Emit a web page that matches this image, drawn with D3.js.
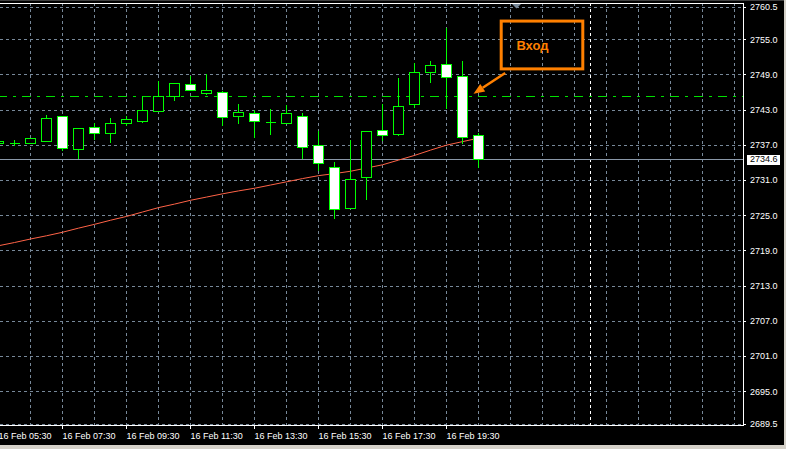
<!DOCTYPE html>
<html><head><meta charset="utf-8">
<script src="https://cdn.jsdelivr.net/npm/d3@7"></script>
<style>
html,body{margin:0;padding:0;background:#000;overflow:hidden}
svg{display:block}
text{font-family:"Liberation Sans",Arial,sans-serif}
</style></head>
<body>
<script>
// ---- data (M30 candles, 16 Feb 05:30 .. 20:30) ----
const openP  = [2737.4,2737.4,2737.4,2737.7,2741.9,2736.3,2740.0,2739.0,2740.8,2741.0,2742.8,2745.4,2747.3,2745.9,2746.0,2742.0,2742.4,2740.9,2740.8,2742.0,2736.9,2733.3,2726.3,2731.6,2739.5,2738.8,2743.9,2749.5,2750.7,2748.8,2738.6];
const highP  = [2737.7,2737.8,2738.2,2742.1,2741.9,2739.8,2740.7,2741.5,2742.0,2745.3,2747.9,2747.5,2748.8,2749.1,2746.1,2744.0,2742.9,2743.1,2743.8,2742.4,2739.4,2734.1,2737.8,2739.4,2744.0,2748.4,2750.9,2751.3,2757.0,2751.3,2739.1];
const lowP   = [2737.4,2736.9,2737.3,2737.6,2736.2,2734.8,2738.0,2737.5,2740.4,2740.9,2742.7,2744.6,2746.3,2745.7,2740.3,2740.8,2738.4,2738.9,2740.7,2734.8,2732.7,2724.6,2726.2,2727.8,2737.8,2738.6,2743.4,2747.8,2743.3,2737.4,2733.3];
const closeP = [2737.7,2737.4,2738.1,2741.5,2736.5,2739.8,2739.0,2740.8,2741.4,2742.9,2745.3,2747.5,2746.3,2746.3,2741.8,2742.6,2741.0,2740.9,2742.4,2736.6,2733.9,2726.0,2731.1,2739.3,2738.6,2743.6,2749.4,2750.6,2748.5,2738.3,2734.6];
const maP    = [2719.8,2720.35,2720.95,2721.5,2722.1,2722.8,2723.45,2724.15,2724.8,2725.55,2726.3,2726.9,2727.55,2728.1,2728.65,2729.15,2729.6,2730.15,2730.7,2731.25,2731.75,2732.1,2732.5,2733.05,2733.6,2734.4,2735.2,2736.1,2736.95,2737.55,2738.15];
const timeTickIdx = [0,4,8,12,16,20,24,28];
const timeLabels = ["16 Feb 05:30","16 Feb 07:30","16 Feb 09:30","16 Feb 11:30","16 Feb 13:30","16 Feb 15:30","16 Feb 17:30","16 Feb 19:30"];
const priceTicks = [2760.5,2755.0,2749.0,2743.0,2737.0,2731.0,2725.0,2719.0,2713.0,2707.0,2701.0,2695.0,2689.5];
const bidPrice = 2734.6;
const levelPrice = 2745.3;
const separatorIdx = 37;           // 17 Feb 00:00
const noteText = "Вход";
const noteBox = [31.45, 2758.1, 36.55, 2749.95];   // idx0, price0, idx1, price1
const noteTextPos = [32.4, 2753.2];
const arrowFrom = [31.7, 2749.25], arrowTo = [29.72, 2745.7];

// ---- layout ----
const W = 786, H = 449;
const PL = 0, PR = 743, PT = 3, PB = 425;
const GRID = "#778899", GREEN = "#00ff00", ORANGE = "#ff8000", MA = "#ff6347";

const svg = d3.select("body").append("svg").attr("width", W).attr("height", H);
svg.append("rect").attr("width", W).attr("height", H).attr("fill", "#000");

const x = d3.scaleLinear().domain([0, 1]).range([-2, 14]);
const y = d3.scaleLinear().domain([2689.5, 2760.5]).range([423.5, 7]);
const px = i => Math.round(x(i)) + 0.5;
const py = v => Math.round(y(v)) + 0.5;

svg.append("defs").append("clipPath").attr("id", "clip")
  .append("rect").attr("x", PL).attr("y", PT + 1).attr("width", PR - PL).attr("height", PB - PT - 1);
const plot = svg.append("g").attr("clip-path", "url(#clip)").attr("shape-rendering", "crispEdges");

// grid
const vIdx = d3.range(2, 60, 2).filter(i => x(i) < PR);
plot.append("g").selectAll("line").data(vIdx).join("line")
  .attr("x1", px).attr("x2", px).attr("y1", PT).attr("y2", PB + 1)
  .attr("stroke", GRID).attr("stroke-dasharray", "3,3");
plot.append("g").selectAll("line").data(priceTicks).join("line")
  .attr("x1", PL).attr("x2", PR).attr("y1", py).attr("y2", py)
  .attr("stroke", GRID).attr("stroke-dasharray", "3,3");

// period separator
plot.append("line").attr("x1", px(separatorIdx)).attr("x2", px(separatorIdx))
  .attr("y1", PT).attr("y2", PB + 1).attr("stroke", "#fff").attr("stroke-dasharray", "3,3");

// bid line
plot.append("line").attr("x1", PL).attr("x2", PR).attr("y1", py(bidPrice)).attr("y2", py(bidPrice))
  .attr("stroke", "#8a98a8");

// level line (dash-dot)
plot.append("line").attr("x1", PL).attr("x2", PR).attr("y1", py(levelPrice)).attr("y2", py(levelPrice))
  .attr("stroke", "#00e000").attr("stroke-dasharray", "9,6,3,6").attr("stroke-dashoffset", 2);

// moving average
plot.append("path").datum(maP)
  .attr("d", d3.line().x((d, i) => x(i) + 0.5).y(d => y(d)))
  .attr("fill", "none").attr("stroke", MA).attr("stroke-width", 1).attr("shape-rendering", "auto");

// candles
const idx = d3.range(openP.length);
const cg = plot.append("g").selectAll("g").data(idx).join("g");
cg.append("line")
  .attr("x1", px).attr("x2", px)
  .attr("y1", i => Math.round(y(highP[i])))
  .attr("y2", i => Math.round(y(lowP[i])) + 1)
  .attr("stroke", GREEN);
cg.append("path")
  .attr("d", i => {
    const x0 = px(i) - 5, x1 = px(i) + 5;
    const t = py(Math.max(openP[i], closeP[i])), b = py(Math.min(openP[i], closeP[i]));
    return `M${x0},${t}H${x1}V${b}H${x0}Z`;
  })
  .attr("fill", i => closeP[i] < openP[i] ? "#fff" : "#000")
  .attr("stroke", GREEN);

// annotation
const ann = svg.append("g");
ann.append("rect")
  .attr("x", x(noteBox[0])).attr("y", y(noteBox[1]))
  .attr("width", x(noteBox[2]) - x(noteBox[0])).attr("height", y(noteBox[3]) - y(noteBox[1]))
  .attr("fill", "none").attr("stroke", ORANGE).attr("stroke-width", 3);
ann.append("text").attr("x", x(noteTextPos[0])).attr("y", y(noteTextPos[1]))
  .attr("fill", ORANGE).attr("font-size", 13).attr("font-weight", "bold").text(noteText);
{
  const fx = x(arrowFrom[0]), fy = y(arrowFrom[1]), tx = x(arrowTo[0]), ty = y(arrowTo[1]);
  const dx = tx - fx, dy = ty - fy, L = Math.hypot(dx, dy), ux = dx / L, uy = dy / L;
  const bx = tx - ux * 11, by = ty - uy * 11, wx = -uy * 4.5, wy = ux * 4.5;
  ann.append("line").attr("x1", fx).attr("y1", fy).attr("x2", bx).attr("y2", by)
    .attr("stroke", ORANGE).attr("stroke-width", 2.5);
  ann.append("path").attr("d", `M${tx},${ty}L${bx + wx},${by + wy}L${bx - wx},${by - wy}Z`).attr("fill", ORANGE);
}

// shift marker
svg.append("path").attr("d", "M512,4L521,4L516.5,8.5Z").attr("fill", GRID);

// frame
svg.append("path").attr("d", `M${PL},${PT + 0.5}H${PR + 0.5}V${PB + 0.5}H${PL}`)
  .attr("fill", "none").attr("stroke", "#fff").attr("shape-rendering", "crispEdges");

// price axis
const ya = svg.append("g").attr("transform", `translate(${PR},0)`)
  .call(d3.axisRight(y).tickValues(priceTicks).tickSize(3).tickPadding(4).tickFormat(d => d.toFixed(1)));
ya.select(".domain").remove();
ya.selectAll("line").attr("stroke", "#fff").attr("shape-rendering", "crispEdges");
ya.selectAll("text").attr("fill", "#fff").attr("font-size", 9).attr("font-family", "Liberation Sans, Arial, sans-serif");

// bid label
const bl = svg.append("g");
bl.append("rect").attr("x", 747).attr("y", Math.round(y(bidPrice)) - 4).attr("width", 33).attr("height", 10).attr("fill", "#fff");
bl.append("text").attr("x", 750).attr("y", y(bidPrice)).attr("dy", "0.32em")
  .attr("font-size", 9).attr("fill", "#000").text(bidPrice.toFixed(1));

// time axis
const xa = svg.append("g").attr("transform", `translate(0,${PB})`)
  .call(d3.axisBottom(x).tickValues(timeTickIdx).tickSize(4).tickFormat((d, i) => timeLabels[i]));
xa.select(".domain").remove();
xa.selectAll("line").attr("stroke", "#fff").attr("shape-rendering", "crispEdges");
xa.selectAll("text").attr("fill", "#fff").attr("font-size", 9).attr("text-anchor", "start")
  .attr("font-family", "Liberation Sans, Arial, sans-serif").attr("x", 0).attr("y", 13.5).attr("dy", 0);

// window border
svg.append("rect").attr("x", 784).attr("y", 0).attr("width", 2).attr("height", H).attr("fill", "#d4d0c8");
svg.append("rect").attr("x", 0).attr("y", 445).attr("width", W).attr("height", 4).attr("fill", "#d4d0c8");
svg.append("rect").attr("x", 0).attr("y", 0).attr("width", 784).attr("height", 1).attr("fill", "#404040");
</script>
</body></html>
